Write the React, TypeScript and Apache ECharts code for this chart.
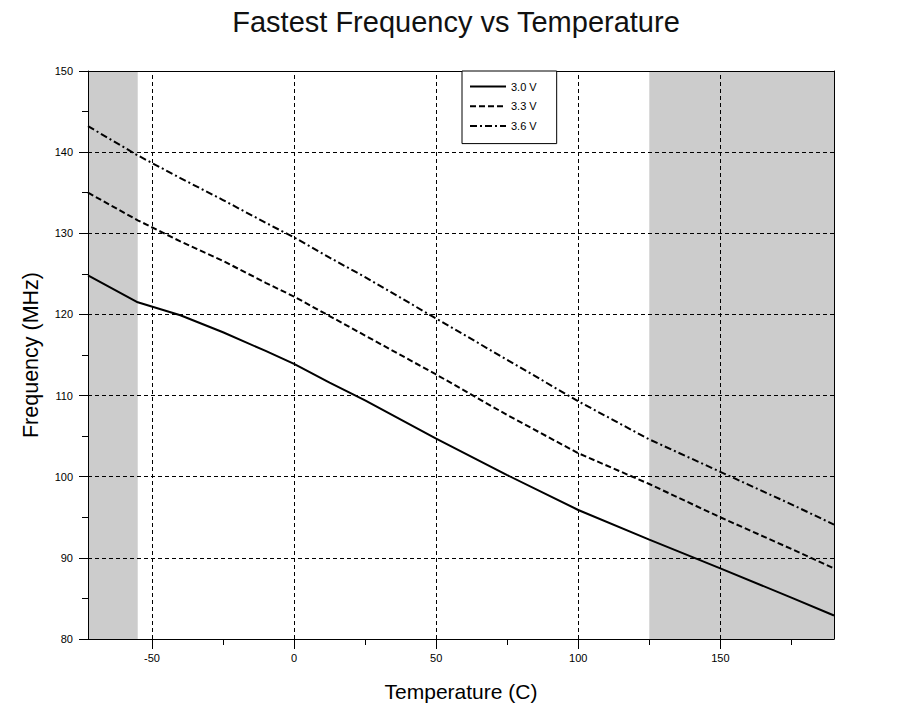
import React, { useEffect, useRef } from "react";
import * as echarts from "echarts";

const temps = [-72.5, -55, -40, -25, -10, 0, 12.5, 25, 50, 75, 100, 125, 150, 175, 190];
const f30 = [124.8, 121.5, 119.9, 117.8, 115.5, 113.9, 111.6, 109.4, 104.7, 100.2, 95.9, 92.25, 88.7, 85.1, 82.9];
const f33 = [135.0, 131.6, 129.0, 126.6, 123.9, 122.2, 119.8, 117.4, 112.6, 107.6, 102.9, 99.1, 95.0, 91.1, 88.7];
const f36 = [143.2, 139.6, 136.8, 134.1, 131.3, 129.5, 127.0, 124.6, 119.5, 114.4, 109.3, 104.6, 100.6, 96.6, 94.1];
const seriesNames = ["3.0 V", "3.3 V", "3.6 V"];
const xMajorTicks = [-50, 0, 50, 100, 150];
const xMinorTicks = [-25, 25, 75, 125, 175];
const yGridValues = [90, 100, 110, 120, 130, 140];
const shadedRanges = [
  [-72.5, -55],
  [125, 190],
];
const xMin = -72.5;
const xMax = 190;
const yMin = 80;
const yMax = 150;

const FONT = "'Liberation Sans', Arial, Helvetica, sans-serif";

export default function App() {
  const ref = useRef<HTMLDivElement>(null);
  useEffect(() => {
    if (!ref.current) return;
    const chart = echarts.init(ref.current, undefined, { renderer: "svg" });
    const mk = (ys: number[]) => temps.map((t, i) => [t, ys[i]]);
    const lineStyles: any[] = [
      { color: "#000", width: 2, type: "solid" },
      { color: "#000", width: 2, type: [6, 3] },
      { color: "#000", width: 2, type: [7, 3, 2, 3] },
    ];
    const dataSets = [f30, f33, f36];
    const axisLine = { show: true, onZero: false, lineStyle: { color: "#000", width: 1 } };
    const option: any = {
      animation: false,
      backgroundColor: "#fff",
      textStyle: { fontFamily: FONT, color: "#000" },
      title: {
        text: "Fastest Frequency vs Temperature",
        left: "center",
        top: 2,
        textStyle: { fontFamily: FONT, fontSize: 29, fontWeight: "normal", color: "#111" },
      },
      grid: { left: 88, right: 78, top: 71, bottom: 68, outerBoundsMode: "none", containLabel: false },
      legend: {
        orient: "vertical",
        left: 462,
        top: 71,
        z: 30,
        data: seriesNames,
        backgroundColor: "#fff",
        borderColor: "#000",
        borderWidth: 1,
        borderRadius: 0,
        padding: [10, 20, 12, 7],
        itemWidth: 36,
        itemHeight: 14,
        itemGap: 8.5,
        itemStyle: { color: "transparent", borderColor: "transparent", borderWidth: 0, opacity: 0 },
        textStyle: { fontFamily: FONT, fontSize: 11, color: "#000" },
      },
      xAxis: [
        {
          type: "value",
          min: xMin,
          max: xMax,
          position: "bottom",
          z: 20,
          name: "Temperature (C)",
          nameLocation: "middle",
          nameGap: 42,
          nameTextStyle: { fontFamily: FONT, fontSize: 21, color: "#000" },
          axisLine,
          axisTick: { show: true, inside: false, length: 10, customValues: xMajorTicks, lineStyle: { color: "#000" } },
          axisLabel: { show: true, customValues: xMajorTicks, margin: 13, fontSize: 11, fontFamily: FONT, color: "#000" },
          splitLine: { show: false },
        },
        {
          type: "value",
          min: xMin,
          max: xMax,
          position: "bottom",
          z: 20,
          axisLine: { show: false, onZero: false },
          axisTick: { show: true, inside: false, length: 6, customValues: xMinorTicks, lineStyle: { color: "#000" } },
          axisLabel: { show: false },
          splitLine: { show: false },
        },
        {
          type: "value",
          min: xMin,
          max: xMax,
          position: "top",
          z: 20,
          axisLine,
          axisTick: { show: false },
          axisLabel: { show: false },
          splitLine: { show: false },
        },
      ],
      yAxis: [
        {
          type: "value",
          min: yMin,
          max: yMax,
          interval: 10,
          position: "left",
          z: 20,
          name: "Frequency (MHz)",
          nameLocation: "middle",
          nameGap: 46,
          nameTextStyle: { fontFamily: FONT, fontSize: 21.5, color: "#000" },
          axisLine,
          axisTick: { show: true, inside: false, length: 9, lineStyle: { color: "#000" } },
          minorTick: { show: true, splitNumber: 2, length: 6, lineStyle: { color: "#000" } },
          axisLabel: { margin: 15, fontSize: 11, fontFamily: FONT, color: "#000" },
          splitLine: { show: false },
        },
        {
          type: "value",
          min: yMin,
          max: yMax,
          position: "right",
          z: 20,
          axisLine,
          axisTick: { show: false },
          axisLabel: { show: false },
          splitLine: { show: false },
        },
      ],
      series: [
        {
          type: "line",
          name: "__bg",
          data: [],
          xAxisIndex: 0,
          yAxisIndex: 0,
          silent: true,
          markArea: {
            silent: true,
            z: 1,
            itemStyle: { color: "#cccccc" },
            label: { show: false },
            data: shadedRanges.map(([a, b]) => [
              { xAxis: a, yAxis: yMax },
              { xAxis: b, yAxis: yMin },
            ]),
          },
          markLine: {
            silent: true,
            z: 5,
            symbol: ["none", "none"],
            label: { show: false },
            lineStyle: { color: "#000", width: 1, type: [4, 3] },
            data: [
              ...xMajorTicks.map((v) => ({ xAxis: v })),
              ...yGridValues.map((v) => ({ yAxis: v })),
            ],
          },
        },
        ...seriesNames.map((n, i) => ({
          type: "line",
          name: n,
          z: 10,
          xAxisIndex: 0,
          yAxisIndex: 0,
          data: mk(dataSets[i]),
          showSymbol: false,
          symbol: "none",
          smooth: false,
          color: "#000",
          lineStyle: lineStyles[i],
        })),
      ],
    };
    chart.setOption(option);
    return () => chart.dispose();
  }, []);
  return (
    <div
      ref={ref}
      style={{ position: "fixed", left: 0, top: 0, width: 912, height: 707, background: "#fff" }}
    />
  );
}
